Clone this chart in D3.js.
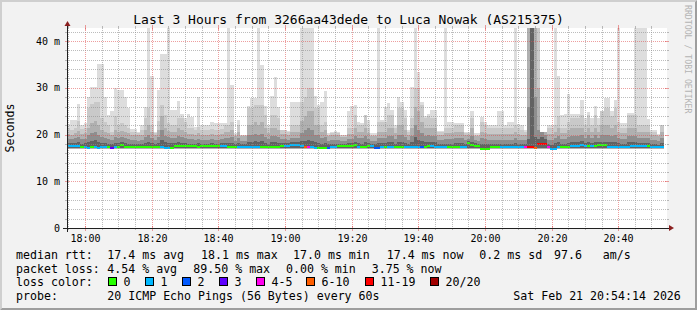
<!DOCTYPE html>
<html lang="en">
<head>
<meta charset="UTF-8">
<title>Smokeping</title>
<script src="https://cdn.jsdelivr.net/npm/d3@7"></script>
<style>
    body { margin: 0; background: #f2f2f2; }
    text { font-family: "DejaVu Sans Mono", monospace; white-space: pre; }
</style>
</head>
<body>
<script>

    var width = 697,
        height = 310;

    // one value per minute (ms)
    var pMax = [
        22.2, 23.1, 23.1, 26.5, 22.0, 22.4, 28.1, 30.2, 30.2, 35.1,
        35.1, 28.1, 24.2, 25.0, 30.0, 29.6, 29.6, 28.0, 25.6, 21.2,
        21.2, 20.5, 22.0, 25.9, 43, 32.5, 20.5, 29.5, 37.2, 37.2,
        43, 25.2, 25.2, 27.2, 24.5, 23.5, 24.4, 23.7, 21.7, 28.0,
        22.0, 22.0, 22.0, 22.6, 22.4, 22.4, 22.4, 22.4, 43, 30.5,
        20.3, 23.1, 20.0, 20.0, 26.2, 27.9, 27.9, 43, 34.9, 26.2,
        22.0, 28.2, 32.3, 26.0, 21.0, 21.0, 20.8, 27.0, 27.0, 27.0,
        43, 43, 43, 43, 28.3, 26.3, 27.0, 29.3, 20.3, 20.6,
        20.8, 20.6, 20.0, 20.0, 25.0, 26.1, 26.3, 22.6, 22.4, 24.2,
        23.1, 20.3, 20.3, 43, 23.1, 26.0, 26.7, 25.3, 22.0, 28.1,
        27.0, 25.3, 21.0, 30.1, 43, 33.4, 27.0, 24.0, 24.4, 25.3,
        25.3, 20.8, 20.8, 43, 22.6, 22.6, 22.4, 22.4, 22.4, 20.6,
        20.6, 25.0, 20.3, 20.3, 23.8, 22.6, 22.1, 22.1, 22.1, 25.0,
        25.0, 22.1, 22.6, 22.6, 43, 22.2, 22.0, 21.0, 43, 43,
        43, 43, 20.6, 20.6, 22.0, 22.0, 43, 32.6, 24.2, 24.5,
        28.6, 24.5, 24.5, 24.5, 27.4, 23.5, 24.8, 23.5, 26.2, 23.5,
        25.0, 27.9, 27.9, 25.0, 27.4, 43, 22.4, 22.4, 24.6, 24.6,
        43, 43, 43, 43, 23.3, 20.9, 20.9, 20.2, 22.1
    ];

    var pUpper = [
        21.3, 21.0, 21.5, 23.0, 21.2, 21.4, 25.6, 26.5, 27.0, 27.0,
        23.5, 22.7, 22.0, 20.6, 24.0, 22.0, 22.4, 22.0, 21.3, 20.6,
        20.6, 20.3, 21.0, 23.5, 25.6, 22.0, 20.3, 23.0, 26.3, 24.2,
        22.4, 22.0, 22.0, 23.5, 23.5, 22.7, 21.3, 21.3, 21.0, 21.6,
        21.0, 21.0, 21.0, 21.2, 21.0, 21.0, 21.2, 22.0, 22.0, 22.7,
        20.0, 22.0, 19.9, 19.9, 25.6, 25.6, 26.3, 26.3, 26.3, 24.2,
        21.5, 24.2, 24.2, 23.5, 21.0, 21.0, 20.6, 22.0, 22.0, 22.0,
        27.0, 28.0, 30.0, 30.0, 25.6, 25.6, 22.0, 22.7, 20.0, 20.3,
        20.6, 20.3, 19.8, 19.8, 21.3, 21.3, 24.2, 22.0, 22.0, 24.2,
        21.3, 20.0, 20.0, 22.7, 22.7, 22.7, 24.2, 24.2, 21.5, 25.6,
        25.6, 23.5, 20.5, 23.5, 30.0, 30.0, 26.3, 23.5, 24.0, 23.5,
        23.5, 20.6, 20.6, 21.3, 21.3, 21.3, 22.0, 22.0, 22.0, 20.3,
        20.3, 23.5, 20.0, 20.0, 22.7, 22.0, 21.5, 21.5, 21.3, 21.3,
        21.3, 21.3, 21.3, 21.3, 22.0, 21.3, 21.0, 20.5, 43, 43,
        43, 43, 20.6, 20.6, 21.3, 21.3, 22.0, 24.0, 21.3, 21.3,
        22.7, 23.5, 23.5, 23.5, 24.2, 22.0, 24.2, 22.0, 24.2, 22.0,
        25.0, 25.6, 25.6, 24.0, 25.6, 22.7, 21.5, 21.5, 24.2, 24.2,
        24.2, 22.0, 22.0, 22.0, 22.0, 20.5, 20.5, 20.0, 22.0
    ];

    var pMid = [
        20.2, 20.0, 20.3, 20.8, 20.2, 20.3, 21.5, 22.5, 23.0, 22.0,
        21.0, 20.6, 20.3, 19.8, 21.0, 20.6, 20.8, 20.6, 20.3, 19.9,
        19.9, 19.8, 20.0, 21.0, 22.0, 20.6, 19.8, 21.0, 24.0, 21.5,
        20.8, 20.5, 20.5, 21.3, 21.0, 20.6, 20.2, 20.2, 20.0, 20.3,
        20.0, 20.0, 20.0, 20.2, 20.0, 20.0, 20.2, 20.6, 20.6, 21.0,
        19.7, 20.6, 19.6, 19.6, 22.0, 22.0, 22.7, 22.0, 22.7, 21.3,
        20.3, 21.3, 21.3, 21.0, 20.2, 20.2, 20.0, 20.6, 20.6, 20.6,
        23.0, 24.0, 25.0, 25.0, 22.0, 22.0, 20.6, 21.0, 19.7, 19.8,
        20.0, 19.8, 19.5, 19.5, 20.2, 20.2, 21.3, 20.6, 20.6, 21.3,
        20.3, 19.7, 19.7, 20.6, 20.6, 20.6, 21.3, 21.3, 20.3, 22.0,
        22.0, 21.0, 19.9, 21.5, 26.0, 25.0, 22.7, 21.3, 21.5, 21.3,
        21.3, 20.0, 20.0, 20.3, 20.3, 20.3, 20.6, 20.6, 20.6, 19.8,
        19.9, 21.3, 19.7, 19.7, 20.6, 20.3, 20.2, 20.2, 20.2, 20.2,
        20.2, 20.2, 20.2, 20.2, 20.6, 20.2, 20.0, 19.9, 43, 43,
        43, 30.0, 20.6, 20.6, 20.2, 20.2, 20.6, 21.3, 20.3, 20.3,
        21.0, 21.3, 21.3, 21.3, 21.5, 20.6, 21.5, 20.6, 21.5, 20.6,
        22.0, 22.0, 22.0, 21.3, 22.0, 20.6, 20.3, 20.3, 21.5, 21.5,
        21.5, 20.6, 20.6, 20.6, 20.6, 19.8, 19.8, 19.6, 20.6
    ];

    var pLow = [
        19.0, 19.0, 19.2, 19.4, 19.0, 19.1, 19.8, 20.3, 20.6, 19.8,
        19.4, 19.2, 19.0, 18.8, 19.4, 19.2, 19.4, 19.2, 19.0, 18.8,
        18.8, 18.7, 18.9, 19.4, 20.0, 19.2, 18.8, 19.4, 21.0, 19.6,
        19.4, 19.2, 19.3, 19.6, 19.4, 19.2, 19.0, 19.0, 18.9, 19.1,
        18.9, 18.9, 18.9, 19.0, 18.9, 18.9, 19.0, 19.2, 19.2, 19.4,
        18.7, 19.2, 18.6, 18.6, 19.8, 19.8, 20.2, 19.8, 20.2, 19.4,
        19.0, 19.6, 19.6, 19.4, 19.0, 19.0, 18.9, 19.2, 19.2, 19.3,
        20.3, 21.0, 21.5, 21.0, 20.0, 19.8, 19.2, 19.4, 18.7, 18.8,
        18.9, 18.8, 18.6, 18.6, 19.0, 19.0, 19.6, 19.2, 19.2, 19.6,
        19.0, 18.7, 18.7, 19.2, 19.2, 19.2, 19.6, 19.6, 19.0, 20.0,
        20.0, 19.4, 18.8, 19.6, 22.0, 21.0, 20.3, 19.6, 19.8, 19.6,
        19.6, 18.9, 18.9, 19.0, 19.0, 19.0, 19.2, 19.2, 19.2, 18.8,
        19.0, 19.6, 18.8, 18.7, 19.2, 19.0, 18.9, 18.9, 18.9, 18.9,
        18.9, 18.9, 18.9, 18.9, 19.2, 18.9, 18.8, 18.8, 26.0, 43,
        28.0, 21.0, 20.6, 20.0, 18.9, 18.9, 19.2, 19.6, 19.0, 19.0,
        19.4, 19.6, 19.6, 19.6, 19.8, 19.2, 19.8, 19.2, 19.8, 19.2,
        20.0, 20.0, 20.0, 19.6, 20.0, 19.2, 19.0, 19.0, 19.6, 19.6,
        19.6, 19.2, 19.2, 19.2, 19.2, 18.8, 18.8, 18.6, 19.2
    ];

    var pCore = [
        18.1, 18.1, 18.2, 18.3, 18.0, 18.1, 18.4, 18.6, 18.8, 18.4,
        18.2, 18.1, 18.0, 17.9, 18.2, 18.1, 18.4, 18.2, 18.0, 17.9,
        17.9, 17.9, 18.0, 18.2, 18.5, 18.1, 17.9, 18.2, 18.8, 18.3,
        18.2, 18.1, 18.2, 18.3, 18.2, 18.1, 18.0, 18.0, 18.0, 18.1,
        18.0, 18.0, 18.0, 18.1, 18.0, 18.0, 18.1, 18.2, 18.1, 18.2,
        17.9, 18.2, 17.9, 17.9, 18.4, 18.4, 18.6, 18.4, 18.6, 18.2,
        18.0, 18.3, 18.3, 18.2, 18.1, 18.1, 18.2, 18.3, 18.4, 18.5,
        18.6, 18.6, 18.8, 18.6, 18.3, 18.2, 18.0, 18.1, 17.9, 18.0,
        18.0, 18.0, 17.9, 17.9, 18.1, 18.1, 18.4, 18.2, 18.0, 18.3,
        18.1, 17.9, 17.9, 18.1, 18.1, 18.1, 18.3, 18.3, 18.0, 18.5,
        18.5, 18.2, 17.9, 18.3, 19.5, 18.8, 18.6, 18.3, 18.5, 18.3,
        18.3, 18.0, 18.0, 18.0, 18.0, 18.0, 18.1, 18.1, 18.1, 17.9,
        18.6, 18.4, 18.2, 17.9, 18.0, 17.9, 17.9, 18.0, 18.0, 18.0,
        18.0, 18.0, 18.0, 18.0, 18.2, 18.0, 17.9, 17.9, 19.0, 43,
        19.5, 19.0, 19.5, 19.0, 18.0, 17.8, 18.1, 18.3, 18.0, 18.0,
        18.2, 18.3, 18.3, 18.4, 18.6, 18.2, 18.4, 18.2, 18.4, 18.3,
        18.5, 18.5, 18.5, 18.3, 18.5, 18.2, 18.0, 18.0, 18.3, 18.3,
        18.3, 18.1, 18.1, 18.1, 18.1, 17.9, 17.9, 17.8, 18.1
    ];

    var median = [
        17.6, 17.6, 17.6, 17.6, 17.3, 17.3, 17.2, 17.3, 17.3, 17.2,
        17.3, 17.3, 17.3, 17.2, 17.3, 17.3, 17.7, 17.4, 17.4, 17.3,
        17.4, 17.4, 17.4, 17.3, 17.4, 17.4, 17.4, 17.4, 17.4, 17.2,
        17.2, 17.2, 17.5, 17.5, 17.6, 17.5, 17.5, 17.5, 17.5, 17.4,
        17.5, 17.5, 17.5, 17.5, 17.5, 17.6, 17.6, 17.6, 17.4, 17.4,
        17.4, 17.4, 17.3, 17.3, 17.3, 17.3, 17.3, 17.3, 17.4, 17.4,
        17.4, 17.4, 17.4, 17.4, 17.6, 17.6, 17.6, 17.7, 17.8, 17.8,
        17.6, 17.3, 17.3, 17.3, 17.2, 17.2, 17.2, 17.2, 17.2, 17.4,
        17.4, 17.5, 17.5, 17.5, 17.5, 17.5, 17.7, 17.3, 17.3, 17.3,
        17.5, 17.5, 17.2, 17.2, 17.4, 17.4, 17.4, 17.4, 17.4, 17.4,
        17.4, 17.3, 17.3, 17.3, 17.3, 17.3, 17.3, 17.3, 17.6, 17.6,
        17.3, 17.3, 17.3, 17.3, 17.3, 17.3, 17.3, 17.3, 17.3, 17.3,
        18.1, 17.75, 17.5, 17.5, 17.0, 17.0, 17.0, 17.3, 17.3, 17.3,
        17.3, 17.3, 17.3, 17.3, 17.3, 17.3, 17.3, 17.3, 17.3, 17.3,
        17.2, 18.05, 18.05, 18.05, 17.4, 17.0, 17.0, 17.3, 17.3, 17.3,
        17.3, 17.5, 17.5, 17.5, 17.8, 17.6, 17.6, 17.6, 17.6, 17.7,
        17.7, 17.7, 17.4, 17.4, 17.4, 17.4, 17.4, 17.4, 17.4, 17.45,
        17.45, 17.45, 17.45, 17.45, 17.45, 17.3, 17.3, 17.3, 17.3
    ];

    // lost pings out of 20, per minute
    var lossCount = [
        1, 1, 1, 1, 0, 1, 1, 0, 1, 1,
        1, 1, 0, 3, 1, 0, 0, 0, 0, 0,
        0, 0, 0, 0, 0, 0, 0, 0, 1, 1,
        1, 0, 0, 0, 0, 0, 0, 0, 0, 0,
        0, 0, 0, 0, 0, 0, 1, 1, 0, 0,
        0, 1, 1, 1, 1, 1, 1, 1, 0, 0,
        0, 0, 0, 0, 0, 1, 1, 1, 1, 1,
        1, 6, 4, 1, 1, 0, 0, 0, 2, 1,
        1, 0, 0, 0, 0, 0, 0, 1, 0, 0,
        0, 1, 2, 2, 1, 0, 1, 1, 0, 0,
        0, 1, 1, 1, 1, 1, 2, 0, 0, 1,
        1, 1, 1, 1, 0, 0, 0, 0, 1, 1,
        0, 0, 0, 0, 0, 0, 0, 0, 0, 0,
        1, 1, 1, 1, 1, 1, 1, 4, 11, 11,
        6, 11, 11, 11, 4, 1, 1, 1, 0, 0,
        0, 1, 1, 1, 1, 1, 0, 1, 0, 0,
        0, 0, 1, 1, 1, 1, 1, 1, 1, 1,
        1, 1, 1, 1, 0, 1, 1, 1, 1
    ];

    var bandFloor = [16.85, 16.95, 17.0, 17.05, 17.1];
    var yTicks = [0, 10, 20, 30, 40];
    var yTickLabels = ["0", "10 m", "20 m", "30 m", "40 m"];

    var lossLabels = ["0", "1", "2", "3", "4-5", "6-10", "11-19", "20/20"];
    var lossColors = ["#26ff00", "#00b8ff", "#0059ff", "#5e00ff", "#ff00ee", "#ff5e00", "#ff0000", "#a10000"];

    var statsRtt = ["17.4 ms avg", "18.1 ms max", "17.0 ms min", "17.4 ms now", "0.2 ms sd", "97.6   am/s"];
    var statsLoss = ["4.54 % avg", "89.50 % max", "0.00 % min", "3.75 % now"];

    var title = "Last 3 Hours from 3266aa43dede to Luca Nowak (AS215375)";
    var probeText = "20 ICMP Echo Pings (56 Bytes) every 60s";
    var stamp = "Sat Feb 21 20:54:14 2026";

    var endTime = new Date(2026, 1, 21, 20, 54, 30);
    var startTime = new Date(endTime.getTime() - 3 * 3600 * 1000);

    var xScale = d3.scaleTime().domain([startTime, endTime]).range([67, 667]);
    var yScale = d3.scaleLinear().domain([0, 42.8]).range([228, 28]).clamp(true);
    var lossColor = d3.scaleThreshold().domain([1, 2, 3, 4, 6, 11, 20]).range(lossColors);

    var times = pMax.map(function(d, i) { return new Date(startTime.getTime() + i * 60000); });
    var lastTime = new Date(times[times.length - 1].getTime() + 60000);

    var svg = d3.select("body").append("svg")
        .attr("width", width)
        .attr("height", height);

    // frame
    svg.append("rect").attr("width", width).attr("height", height).attr("fill", "#f2f2f2");
    svg.append("path")
        .attr("d", "M0,0H" + width + "L" + (width - 2) + ",2H2V" + (height - 2) + "L0," + height + "Z")
        .attr("fill", "#cfcfcf");
    svg.append("path")
        .attr("d", "M0," + height + "H" + width + "V0L" + (width - 2) + ",2V" + (height - 2) + "H2Z")
        .attr("fill", "#9e9e9e");

    svg.append("rect")
        .attr("x", 67).attr("y", 28)
        .attr("width", 600).attr("height", 200)
        .attr("fill", "#fff");

    // smoke
    var bandColors = ["#dddddd", "#c9c9c9", "#b0b0b0", "#8e8e8e", "#626262"];
    var area = d3.area()
        .curve(d3.curveStepAfter)
        .x(function(d) { return xScale(d.t); })
        .y0(function(d) { return yScale(d.lo); })
        .y1(function(d) { return yScale(d.hi); });

    [pMax, pUpper, pMid, pLow, pCore].forEach(function(vals, b) {
        var pts = vals.map(function(v, i) { return {t: times[i], lo: bandFloor[b], hi: v}; });
        pts.push({t: lastTime, lo: bandFloor[b], hi: vals[vals.length - 1]});
        svg.append("path")
            .attr("d", area(pts))
            .attr("fill", bandColors[b])
            .attr("shape-rendering", "crispEdges");
    });

    // median, coloured by loss
    svg.selectAll(".med")
        .data(median)
        .enter().append("rect")
        .attr("class", "med")
        .attr("x", function(d, i) { return xScale(times[i]); })
        .attr("width", function(d, i) { return xScale(i < times.length - 1 ? times[i + 1] : lastTime) - xScale(times[i]); })
        .attr("y", function(d) { return yScale(d) - 1; })
        .attr("height", 2)
        .attr("fill", function(d, i) { return lossColor(lossCount[i]); })
        .attr("shape-rendering", "crispEdges");

    // grid
    var gridCol = "rgba(143,143,143,0.6)",
        mgridCol = "rgba(222,79,79,0.55)";
    var grid = svg.append("g").attr("shape-rendering", "crispEdges");

    var minorX = d3.timeMinute.every(5).range(startTime, endTime).filter(function(t) { return t.getMinutes() % 20 !== 0; });
    var majorX = d3.timeMinute.every(20).range(startTime, endTime);
    function px(t) { return Math.floor(xScale(t)) + 0.5; }
    function py(v) { return Math.round(yScale(v)) + 0.5; }

    minorX.forEach(function(t) {
        grid.append("line").attr("x1", px(t)).attr("x2", px(t)).attr("y1", 28).attr("y2", 228)
            .attr("stroke", gridCol).attr("stroke-dasharray", "1,1");
        grid.append("line").attr("x1", px(t)).attr("x2", px(t)).attr("y1", 228).attr("y2", 230).attr("stroke", gridCol);
        grid.append("line").attr("x1", px(t)).attr("x2", px(t)).attr("y1", 26).attr("y2", 28).attr("stroke", gridCol);
    });
    majorX.forEach(function(t) {
        grid.append("line").attr("x1", px(t)).attr("x2", px(t)).attr("y1", 28).attr("y2", 228)
            .attr("stroke", mgridCol).attr("stroke-dasharray", "1,1");
        grid.append("line").attr("x1", px(t)).attr("x2", px(t)).attr("y1", 226).attr("y2", 231).attr("stroke", mgridCol);
        grid.append("line").attr("x1", px(t)).attr("x2", px(t)).attr("y1", 25).attr("y2", 30).attr("stroke", mgridCol);
    });

    d3.range(2, 43, 2).forEach(function(v) {
        var major = v % 10 === 0;
        var c = major ? mgridCol : gridCol;
        grid.append("line").attr("x1", 67).attr("x2", 667).attr("y1", py(v)).attr("y2", py(v))
            .attr("stroke", c).attr("stroke-dasharray", "1,1");
        grid.append("line").attr("x1", 65).attr("x2", major ? 69 : 67).attr("y1", py(v)).attr("y2", py(v)).attr("stroke", c);
        grid.append("line").attr("x1", major ? 665 : 667).attr("x2", 669).attr("y1", py(v)).attr("y2", py(v)).attr("stroke", c);
    });

    // axes
    svg.append("line").attr("x1", 63).attr("x2", 671).attr("y1", 228.5).attr("y2", 228.5)
        .attr("stroke", "#202020").attr("shape-rendering", "crispEdges");
    svg.append("line").attr("x1", 67.5).attr("x2", 67.5).attr("y1", 232).attr("y2", 24)
        .attr("stroke", "#202020").attr("shape-rendering", "crispEdges");
    svg.append("path").attr("d", "M669,225L669,231L674,228Z").attr("fill", "#8b2020");
    svg.append("path").attr("d", "M64.5,26L70.5,26L67.5,21Z").attr("fill", "#8b2020");

    // tick labels
    svg.selectAll(".ylab")
        .data(yTicks)
        .enter().append("text")
        .attr("x", 60)
        .attr("y", function(d) { return yScale(d) + 3.6; })
        .attr("text-anchor", "end")
        .style("font-size", "10px")
        .text(function(d, i) { return yTickLabels[i]; });

    svg.selectAll(".xlab")
        .data(majorX)
        .enter().append("text")
        .attr("x", function(d) { return px(d); })
        .attr("y", 241.5)
        .attr("text-anchor", "middle")
        .style("font-size", "10px")
        .text(d3.timeFormat("%H:%M"));

    svg.append("text")
        .attr("x", 348.5).attr("y", 24)
        .attr("text-anchor", "middle")
        .style("font-size", "13px")
        .text(title);

    svg.append("text")
        .attr("transform", "translate(13.5,128) rotate(-90)")
        .attr("text-anchor", "middle")
        .style("font-size", "11.6px")
        .text("Seconds");

    svg.append("text")
        .attr("transform", "translate(685,5) rotate(90)")
        .style("font-size", "8.2px")
        .attr("fill", "#b4b4b4")
        .text("RRDTOOL / TOBI OETIKER");

    // legend
    var legend = svg.append("g").style("font-size", "11.6px");
    var rttX = [107.3, 201, 293, 386.7, 479.3, 554];
    var lossX = [107.3, 193.3, 286, 371.7];

    legend.append("text").attr("x", 16).attr("y", 258.5).text("median rtt:");
    statsRtt.forEach(function(s, i) {
        legend.append("text").attr("x", rttX[i]).attr("y", 258.5).text(s);
    });
    legend.append("text").attr("x", 16).attr("y", 272.5).text("packet loss:");
    statsLoss.forEach(function(s, i) {
        legend.append("text").attr("x", lossX[i]).attr("y", 272.5).text(s);
    });

    legend.append("text").attr("x", 16).attr("y", 286).text("loss color:");
    var boxX = [108.5, 145.5, 182.5, 219.5, 256.5, 306.5, 365.5, 430.5];
    lossLabels.forEach(function(l, i) {
        legend.append("rect")
            .attr("x", boxX[i]).attr("y", 277.5)
            .attr("width", 8).attr("height", 8)
            .attr("fill", lossColors[i])
            .attr("stroke", "#000");
        legend.append("text").attr("x", boxX[i] + 15).attr("y", 286).text(l);
    });

    legend.append("text").attr("x", 16).attr("y", 300).text("probe:");
    legend.append("text").attr("x", 107.3).attr("y", 300).text(probeText);
    legend.append("text").attr("x", 513.3).attr("y", 300).text(stamp);

</script>
</body>
</html>
